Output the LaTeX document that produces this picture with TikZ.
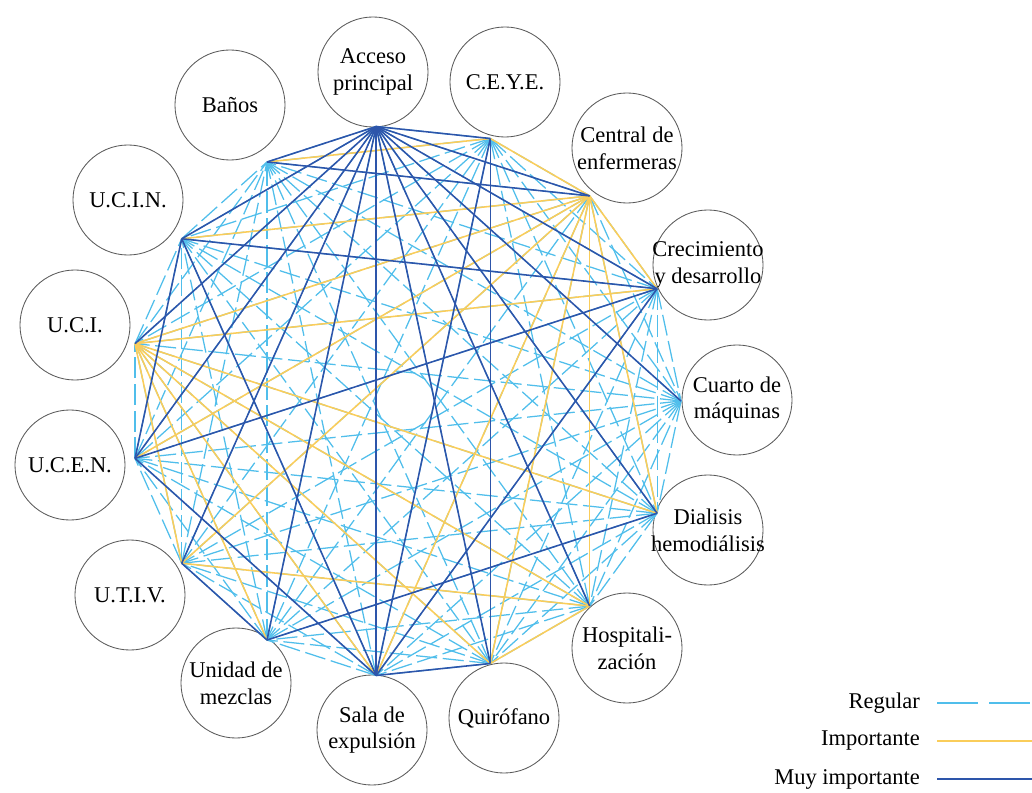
\documentclass[tikz,border=0pt]{standalone}
\usepackage{fontspec}
\setmainfont{Liberation Serif}
\usetikzlibrary{positioning}
\definecolor{regblue}{RGB}{80,190,235}
\definecolor{impyellow}{RGB}{250,205,90}
\definecolor{muyblue}{RGB}{45,85,170}
\newcommand{\zw}[1]{\makebox[0pt]{#1}}

\begin{document}
\begin{tikzpicture}[x=0.025cm, y=0.025cm,
    room/.style={circle, draw=black!65, line width=0.6pt, minimum size=2.75cm, inner sep=0pt, align=center, font=\fontsize{16}{19}\selectfont},
    legend/.style={anchor=east, inner xsep=12pt, font=\fontsize{16}{19}\selectfont},
    reg/.style={regblue, line width=0.9pt, dash pattern=on 15pt off 4pt},
    imp/.style={impyellow, line width=1.1pt},
    muy/.style={muyblue, line width=1.1pt}]
    \useasboundingbox (0,0) rectangle (1032,792);
    \begin{scope}[shift={(405,391)}]
    \node[room] (acceso) at (-32,329) {\zw{Acceso}\\\zw{principal}};
    \node[room] (ceye) at (100,319) {C.E.Y.E.};
    \node[room] (central) at (222,253) {\zw{Central de}\\\zw{enfermeras}};
    \node[room] (crec) at (303,136) {\zw{Crecimiento}\\\zw{y desarrollo}};
    \node[room] (cuarto) at (332,1) {\zw{Cuarto de}\\\zw{máquinas}};
    \node[room] (dialisis) at (303,-129) {\zw{Dialisis}\\\zw{hemodiálisis}};
    \node[room] (hosp) at (222,-247) {\zw{Hospitali-}\\\zw{zación}};
    \node[room] (quir) at (99,-317) {Quirófano};
    \node[room] (sala) at (-33,-329) {\zw{Sala de}\\\zw{expulsión}};
    \node[room] (mezclas) at (-169,-282) {\zw{Unidad de}\\\zw{mezclas}};
    \node[room] (utiv) at (-275,-194) {U.T.I.V.};
    \node[room] (ucen) at (-335,-64) {U.C.E.N.};
    \node[room] (uci) at (-330,76) {U.C.I.};
    \node[room] (ucin) at (-277,201) {U.C.I.N.};
    \node[room] (banos) at (-175,296) {Baños};

    % anchor points on the inner ring
    \foreach \k in {0,...,14}
        \coordinate (p\k) at ({96-24*\k}:276);

    % regular
    \foreach \i in {0,...,13} {
        \pgfmathtruncatemacro{\first}{\i+1}
        \foreach \j in {\first,...,14}
            \draw[reg] (p\i) -- (p\j);
    }
    % importante
    \foreach \i/\j in {1/14, 1/2, 2/13, 2/12, 2/11, 2/10, 2/8, 2/7, 2/6, 2/5, 2/3,
        12/3, 12/5, 12/6, 12/7, 12/8, 12/9, 12/10, 10/6, 7/6}
        \draw[imp] (p\i) -- (p\j);
    % muy importante
    \foreach \j in {1,...,14}
        \draw[muy] (p0) -- (p\j);
    \foreach \i/\j in {14/2, 13/11, 13/8, 13/3, 11/3, 11/8, 10/9, 9/5, 3/8, 8/7, 1/8, 1/7}
        \draw[muy] (p\i) -- (p\j);
    \end{scope}

    \node[legend] (lreg) at (937,89) {Regular};
    \node[legend] (limp) at (937,51) {Importante};
    \node[legend] (lmuy) at (937,13) {Muy importante};
    \coordinate (lregend) at (1032,89);
    \coordinate (limpend) at (1032,51);
    \coordinate (lmuyend) at (1032,13);
    \draw[reg, dash pattern=on 29pt off 8pt] (lreg.east) -- (lregend);
    \draw[imp] (limp.east) -- (limpend);
    \draw[muy] (lmuy.east) -- (lmuyend);
\end{tikzpicture}
\end{document}
